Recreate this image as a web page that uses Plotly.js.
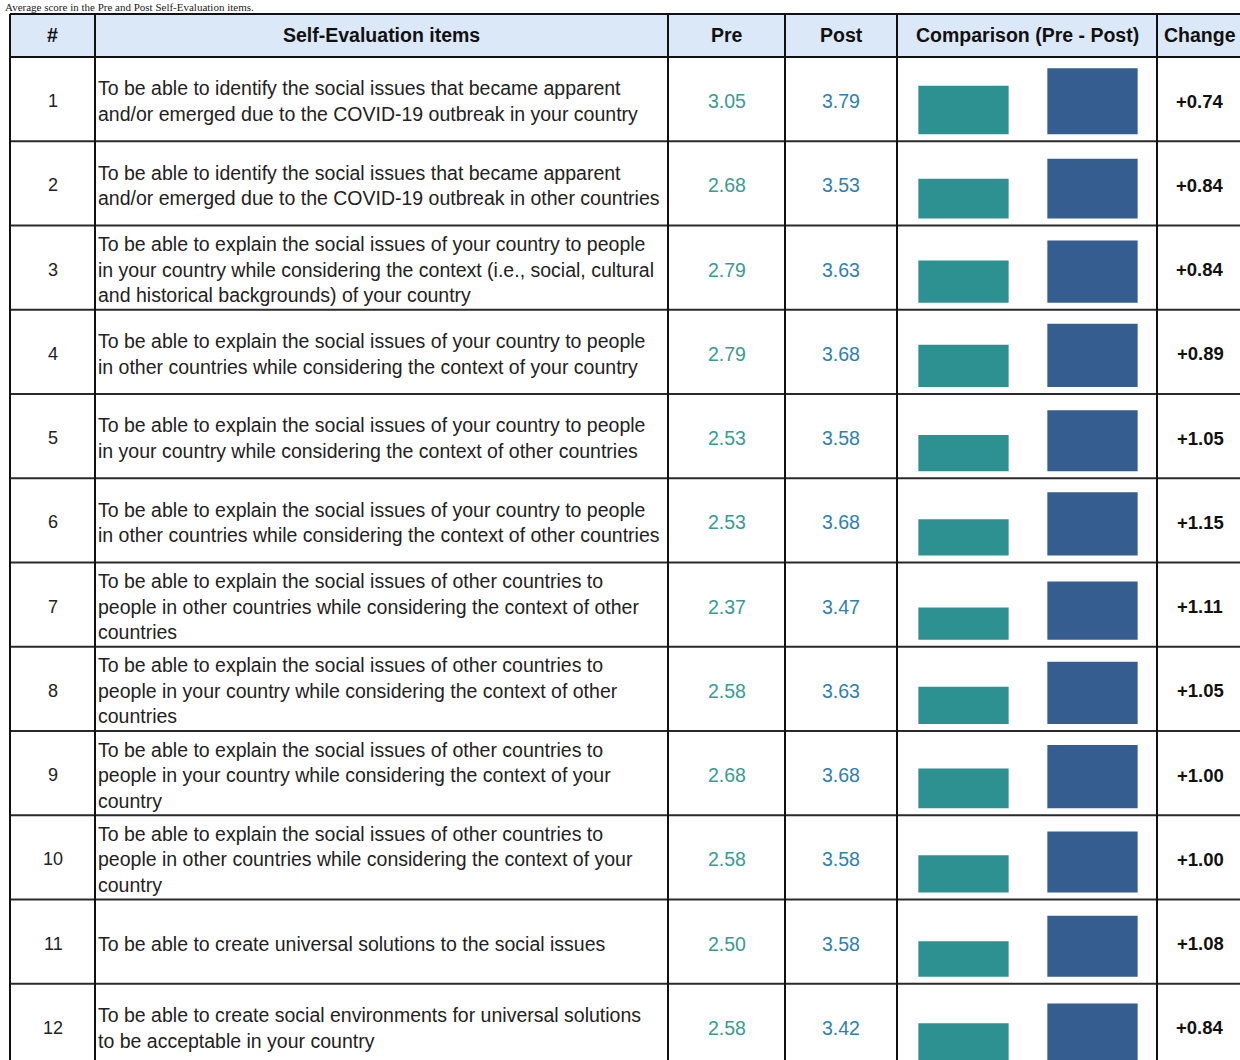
<!DOCTYPE html>
<html>
<head>
<meta charset="utf-8">
<script src="https://cdn.plot.ly/plotly-3.0.1.min.js"></script>
<style>html,body{margin:0;padding:0;background:#fff;}#chart{width:1240px;height:1060px;}</style>
</head>
<body>
<div id="chart"></div>
<script>
// ---- data ----
const titleText = 'Average score in the Pre and Post Self-Evaluation items.';
const headers = ['#', 'Self-Evaluation items', 'Pre', 'Post', 'Comparison (Pre - Post)', 'Change'];
const rowNumbers = ['1','2','3','4','5','6','7','8','9','10','11','12'];
const items = [
  ['To be able to identify the social issues that became apparent', 'and/or emerged due to the COVID-19 outbreak in your country'],
  ['To be able to identify the social issues that became apparent', 'and/or emerged due to the COVID-19 outbreak in other countries'],
  ['To be able to explain the social issues of your country to people', 'in your country while considering the context (i.e., social, cultural', 'and historical backgrounds) of your country'],
  ['To be able to explain the social issues of your country to people', 'in other countries while considering the context of your country'],
  ['To be able to explain the social issues of your country to people', 'in your country while considering the context of other countries'],
  ['To be able to explain the social issues of your country to people', 'in other countries while considering the context of other countries'],
  ['To be able to explain the social issues of other countries to', 'people in other countries while considering the context of other', 'countries'],
  ['To be able to explain the social issues of other countries to', 'people in your country while considering the context of other', 'countries'],
  ['To be able to explain the social issues of other countries to', 'people in your country while considering the context of your', 'country'],
  ['To be able to explain the social issues of other countries to', 'people in other countries while considering the context of your', 'country'],
  ['To be able to create universal solutions to the social issues'],
  ['To be able to create social environments for universal solutions', 'to be acceptable in your country']
];
const preScores  = [3.05, 2.68, 2.79, 2.79, 2.53, 2.53, 2.37, 2.58, 2.68, 2.58, 2.50, 2.58];
const postScores = [3.79, 3.53, 3.63, 3.68, 3.58, 3.68, 3.47, 3.63, 3.68, 3.58, 3.58, 3.42];
const changeLabels = ['+0.74', '+0.84', '+0.84', '+0.89', '+1.05', '+1.15', '+1.11', '+1.05', '+1.00', '+1.00', '+1.08', '+0.84'];
const barCategories = ['Pre', 'Post'];

// ---- layout geometry & styles ----
const W = 1240, H = 1060;
const colX = [10, 95, 668, 785, 897, 1157, 1243];
const headerTop = 14, headerBot = 57, rowH = 84.25;
const preBarColor = '#2e9191', postBarColor = '#355d8f';
const preTextColor = '#3a9a92', postTextColor = '#2f80ad';
const FONT = 'Liberation Sans, Arial, sans-serif';
const fx = p => p / W;
const fy = p => 1 - p / H;

const traces = [];
const layout = {
  width: W, height: H,
  margin: {l: 0, r: 0, t: 0, b: 0},
  paper_bgcolor: '#ffffff', plot_bgcolor: 'rgba(0,0,0,0)',
  showlegend: false, bargap: 0.3,
  shapes: [], annotations: [],
  xaxis: {domain: [fx(colX[4] + 2), fx(colX[5])], type: 'category', categoryorder: 'array',
          categoryarray: barCategories, range: [-0.5, 1.5], visible: false, fixedrange: true, anchor: 'y'}
};

// header background
layout.shapes.push({type: 'rect', xref: 'paper', yref: 'paper', x0: fx(colX[0]), x1: fx(colX[6]),
  y0: fy(headerBot), y1: fy(headerTop), fillcolor: '#dbe8f8', line: {width: 0}, layer: 'below'});

// header texts
const colCenters = [52.5, 381.5, 726.5, 841, 1027, 1200];
headers.forEach((h, j) => {
  layout.annotations.push({xref: 'paper', yref: 'paper', x: fx(colCenters[j]), y: fy((headerTop + headerBot) / 2),
    xanchor: 'center', yanchor: 'middle', showarrow: false, text: '<b>' + h + '</b>',
    font: {family: FONT, size: 19.5, color: '#111'}});
});

// title line above the table
layout.annotations.push({xref: 'paper', yref: 'paper', x: fx(4), y: fy(0), xanchor: 'left', yanchor: 'top',
  showarrow: false, borderpad: 0, text: titleText,
  font: {family: 'Liberation Serif, Times New Roman, serif', size: 11, color: '#222'}});

rowNumbers.forEach((num, i) => {
  const top = headerBot + rowH * i, bot = top + rowH, mid = (top + bot) / 2 + 2;
  // row number
  layout.annotations.push({xref: 'paper', yref: 'paper', x: fx(53), y: fy(mid), xanchor: 'center', yanchor: 'middle',
    showarrow: false, text: num, font: {family: FONT, size: 18, color: '#222'}});
  // item text lines
  const lines = items[i];
  const spacing = 25.5;
  lines.forEach((ln, k) => {
    const yy = mid + (k - (lines.length - 1) / 2) * spacing;
    layout.annotations.push({xref: 'paper', yref: 'paper', x: fx(95.5), y: fy(yy), xanchor: 'left', yanchor: 'middle',
      showarrow: false, text: ln, font: {family: FONT, size: 19.5, color: '#222'}});
  });
  // pre / post / change values
  layout.annotations.push({xref: 'paper', yref: 'paper', x: fx(727), y: fy(mid), xanchor: 'center', yanchor: 'middle',
    showarrow: false, text: preScores[i].toFixed(2), font: {family: FONT, size: 19.5, color: preTextColor}});
  layout.annotations.push({xref: 'paper', yref: 'paper', x: fx(841), y: fy(mid), xanchor: 'center', yanchor: 'middle',
    showarrow: false, text: postScores[i].toFixed(2), font: {family: FONT, size: 19.5, color: postTextColor}});
  layout.annotations.push({xref: 'paper', yref: 'paper', x: fx(1200), y: fy(mid), xanchor: 'center', yanchor: 'middle',
    showarrow: false, text: '<b>' + changeLabels[i] + '</b>', font: {family: FONT, size: 18.5, color: '#111'}});

  // bars in their own y axis
  const yName = i === 0 ? 'y' : 'y' + (i + 1);
  const yKey = i === 0 ? 'yaxis' : 'yaxis' + (i + 1);
  layout[yKey] = {domain: [fy(bot - 7), fy(top + 4)], range: [1, 4.1], visible: false, fixedrange: true, anchor: 'x'};
  traces.push({type: 'bar', x: barCategories, y: [preScores[i], postScores[i]], xaxis: 'x', yaxis: yName,
    marker: {color: [preBarColor, postBarColor], line: {width: 0}}, hoverinfo: 'skip'});

  // row bottom line
  layout.shapes.push({type: 'line', xref: 'paper', yref: 'paper', x0: fx(colX[0]), x1: fx(colX[6]),
    y0: fy(bot), y1: fy(bot), line: {color: '#2a2a2a', width: 2}});
});

// header lines
[headerTop, headerBot].forEach(p => layout.shapes.push({type: 'line', xref: 'paper', yref: 'paper',
  x0: fx(colX[0]), x1: fx(colX[6]), y0: fy(p), y1: fy(p), line: {color: '#111', width: 2}}));
// vertical lines
colX.forEach(p => layout.shapes.push({type: 'line', xref: 'paper', yref: 'paper',
  x0: fx(p), x1: fx(p), y0: fy(headerTop), y1: fy(H + 20), line: {color: '#111', width: 2}}));

Plotly.newPlot('chart', traces, layout, {staticPlot: true, displayModeBar: false});
</script>
</body>
</html>
